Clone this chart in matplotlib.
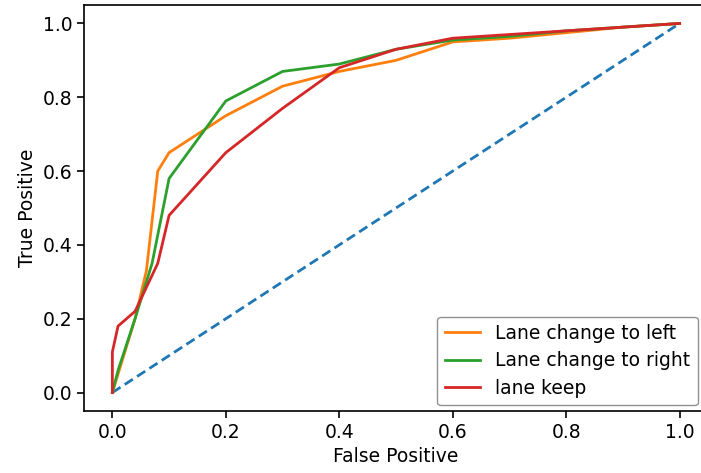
import matplotlib
matplotlib.use("Agg")
from matplotlib import pyplot as plt

# ROC points
fpr_left = [0.0, 0.02, 0.04, 0.06, 0.08, 0.10, 0.20, 0.30, 0.40, 0.50, 0.60, 0.70, 0.80, 0.90, 1.0]
tpr_left = [0.0, 0.10, 0.20, 0.33, 0.60, 0.65, 0.75, 0.83, 0.87, 0.90, 0.95, 0.96, 0.975, 0.99, 1.0]

fpr_right = [0.0, 0.01, 0.04, 0.07, 0.10, 0.20, 0.30, 0.40, 0.50, 0.60, 0.70, 0.80, 1.0]
tpr_right = [0.0, 0.06, 0.20, 0.35, 0.58, 0.79, 0.87, 0.89, 0.93, 0.955, 0.965, 0.98, 1.0]

fpr_keep = [0.0, 0.0, 0.01, 0.04, 0.08, 0.10, 0.20, 0.30, 0.40, 0.50, 0.60, 0.80, 1.0]
tpr_keep = [0.0, 0.11, 0.18, 0.22, 0.35, 0.48, 0.65, 0.77, 0.88, 0.93, 0.96, 0.98, 1.0]

diag = [0.0, 1.0]

FS = 13.5
LW = 2.0

fig = plt.figure(figsize=(7.01, 4.73), dpi=100)
ax = fig.add_axes([84 / 701, 62 / 473, 624 / 701, 406 / 473])

ax.plot(diag, diag, linestyle='--', color='C0', lw=LW, dashes=(3.5, 1.8))
ax.plot(fpr_left, tpr_left, color='C1', lw=LW, label='Lane change to left')
ax.plot(fpr_right, tpr_right, color='C2', lw=LW, label='Lane change to right')
ax.plot(fpr_keep, tpr_keep, color='C3', lw=LW, label='lane keep')

ax.set_xlim(-0.05, 1.05)
ax.set_ylim(-0.05, 1.05)
ax.set_xticks([0.0, 0.2, 0.4, 0.6, 0.8, 1.0])
ax.set_yticks([0.0, 0.2, 0.4, 0.6, 0.8, 1.0])
ax.tick_params(labelsize=FS, length=5, width=1.2)
for s in ax.spines.values():
    s.set_linewidth(1.2)
ax.set_xlabel('False Positive', fontsize=FS)
ax.set_ylabel('True Positive', fontsize=FS)

leg = ax.legend(loc='lower right', fontsize=FS, bbox_to_anchor=(0.993, 0.0),
                borderaxespad=0.3, labelspacing=0.45, handlelength=1.9)
leg.get_frame().set_edgecolor('#777777')

fig.savefig('out.png', dpi=100)
